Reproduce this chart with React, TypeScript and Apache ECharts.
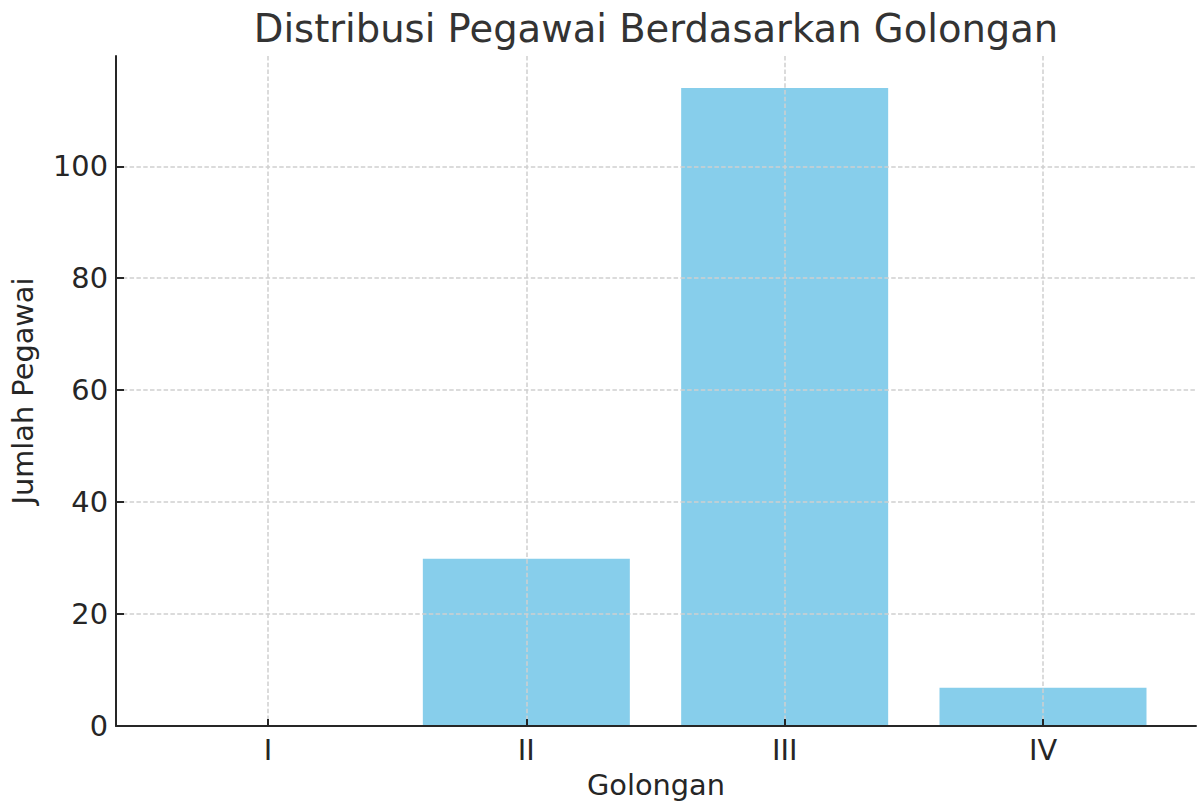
import React, { useEffect, useRef } from "react";
import * as echarts from "echarts";

const categories = ["I", "II", "III", "IV"];
const employeeCounts = [0, 30, 114, 7];
const yTickStep = 20;
const yMax = 119.7;

const FONT = "DejaVu Sans";
const DARK = "#262626";
const GRID_LINE = { color: "#d0d0d0", type: [4.5, 2.3], width: 1.5 };

export default function App() {
  const ref = useRef<HTMLDivElement>(null);
  useEffect(() => {
    if (!ref.current) return;
    const chart = echarts.init(ref.current, undefined, { renderer: "svg" });
    const top = 56;
    const bottom = 77;
    chart.setOption({
      animation: false,
      backgroundColor: "#ffffff",
      title: {
        text: "Distribusi Pegawai Berdasarkan Golongan",
        left: 651,
        top: 4,
        textAlign: "center",
        textStyle: { fontFamily: FONT, fontSize: 38.5, fontWeight: "normal", color: "#333333" },
      },
      grid: [
        { left: 268, right: 155, top, bottom, containLabel: false },
        { left: 115, right: 2, top, bottom, containLabel: false },
      ],
      xAxis: [
        {
          type: "category",
          gridIndex: 0,
          z: 5,
          data: categories,
          boundaryGap: false,
          axisLine: { show: false },
          axisTick: { show: true, inside: true, length: 8, lineStyle: { color: DARK, width: 2 } },
          axisLabel: { fontFamily: FONT, fontSize: 28.8, color: DARK, margin: 8 },
          splitLine: { show: true, lineStyle: GRID_LINE },
        },
        {
          type: "value",
          gridIndex: 1,
          z: 6,
          min: 0,
          max: 1,
          axisLine: { show: true, onZero: false, lineStyle: { color: DARK, width: 2 } },
          axisTick: { show: false },
          axisLabel: { show: false },
          splitLine: { show: false },
          name: "Golongan",
          nameLocation: "middle",
          nameGap: 44,
          nameTextStyle: { fontFamily: FONT, fontSize: 28.8, color: DARK },
        },
      ],
      yAxis: [
        {
          type: "value",
          gridIndex: 0,
          min: 0,
          max: yMax,
          show: false,
          splitLine: { show: false },
        },
        {
          type: "value",
          gridIndex: 1,
          z: 5,
          min: 0,
          max: yMax,
          interval: yTickStep,
          axisLine: { show: true, lineStyle: { color: DARK, width: 2 } },
          axisTick: { show: true, inside: true, length: 8, lineStyle: { color: DARK, width: 2 } },
          axisLabel: { fontFamily: FONT, fontSize: 28.8, color: DARK, margin: 8, showMaxLabel: false },
          splitLine: {
            show: true,
            showMinLine: false,
            showMaxLine: false,
            lineStyle: GRID_LINE,
          },
          name: "Jumlah Pegawai",
          nameLocation: "middle",
          nameGap: 79,
          nameTextStyle: { fontFamily: FONT, fontSize: 28.8, color: DARK },
        },
      ],
      series: [
        {
          type: "bar",
          xAxisIndex: 0,
          yAxisIndex: 0,
          data: employeeCounts,
          barWidth: 207,
          itemStyle: { color: "#87CEEB" },
          z: 1,
        },
      ],
    });
    return () => chart.dispose();
  }, []);
  return (
    <div
      ref={ref}
      style={{ position: "fixed", left: 0, top: 0, width: 1198, height: 804, background: "#fff" }}
    />
  );
}
